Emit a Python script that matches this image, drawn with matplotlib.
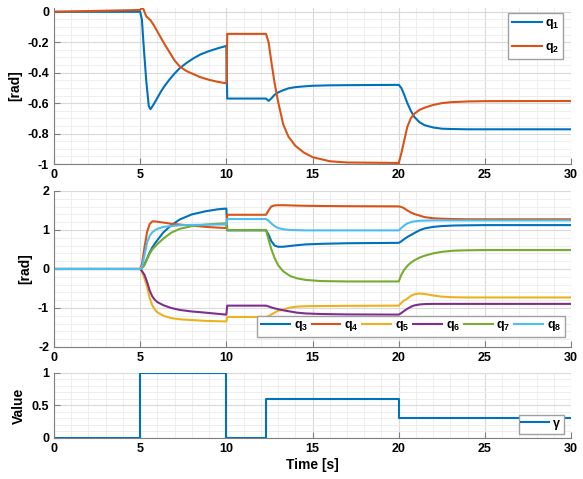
import matplotlib
matplotlib.use('Agg')
import matplotlib.pyplot as plt
from matplotlib.ticker import MultipleLocator

# ---- data ----
t_top = [0, 5.0, 5.1, 5.2, 5.35, 5.5, 5.6, 5.8, 6.0, 6.2, 6.4, 6.7, 7.0, 7.3, 7.7, 8.1,
         8.5, 9.0, 9.5, 10.0, 10.05, 12.3, 12.45, 12.6, 12.8, 13.0, 13.3, 13.6, 14.0,
         14.5, 15, 16, 17, 20.0, 20.15, 20.3, 20.5, 20.7, 20.9, 21.2, 21.5, 22.0, 22.5,
         23, 24, 25, 30]
q1 = [0, 0, -0.05, -0.22, -0.45, -0.62, -0.64, -0.605, -0.565, -0.525, -0.49, -0.445,
      -0.405, -0.37, -0.335, -0.305, -0.28, -0.258, -0.24, -0.224, -0.57, -0.57, -0.585,
      -0.57, -0.545, -0.53, -0.515, -0.503, -0.495, -0.49, -0.486, -0.483, -0.482, -0.48,
      -0.50, -0.54, -0.60, -0.65, -0.69, -0.725, -0.745, -0.76, -0.768, -0.77, -0.772,
      -0.772, -0.772]
q2 = [0, 0.012, 0.028, 0.015, -0.03, -0.045, -0.055, -0.09, -0.13, -0.17, -0.21, -0.265,
      -0.32, -0.36, -0.39, -0.41, -0.43, -0.447, -0.46, -0.47, -0.145, -0.145, -0.20,
      -0.32, -0.47, -0.59, -0.74, -0.82, -0.88, -0.925, -0.955, -0.982, -0.99, -0.993,
      -0.93, -0.855, -0.755, -0.70, -0.67, -0.645, -0.63, -0.612, -0.60, -0.594, -0.589,
      -0.587, -0.586]

t_mid = [0, 5.0, 5.1, 5.25, 5.4, 5.55, 5.7, 5.85, 6.0, 6.35, 6.8, 7.3, 8.0, 8.8, 9.5, 10.0,
         10.05, 12.3, 12.45, 12.6, 12.8, 13.0, 13.3, 13.7, 14.1, 14.6, 15.5, 17, 20.0,
         20.15, 20.3, 20.5, 20.7, 20.9, 21.2, 21.5, 22.0, 22.5, 23.2, 24, 25, 30]
q3 = [0, 0, 0.03, 0.12, 0.27, 0.42, 0.55, 0.65, 0.74, 0.94, 1.12, 1.27, 1.40, 1.48, 1.53,
      1.55, 0.99, 0.99, 0.88, 0.72, 0.60, 0.57, 0.57, 0.59, 0.61, 0.63, 0.645, 0.66, 0.67,
      0.71, 0.76, 0.82, 0.87, 0.92, 0.99, 1.04, 1.08, 1.10, 1.115, 1.12, 1.125, 1.125]
q4 = [0, 0, 0.12, 0.55, 0.95, 1.15, 1.22, 1.22, 1.21, 1.19, 1.16, 1.14, 1.11, 1.08, 1.06,
      1.05, 1.39, 1.39, 1.50, 1.60, 1.63, 1.635, 1.635, 1.63, 1.625, 1.62, 1.615, 1.61,
      1.605, 1.59, 1.56, 1.50, 1.45, 1.41, 1.37, 1.33, 1.30, 1.29, 1.28, 1.275, 1.275, 1.275]
q5 = [0, 0, -0.06, -0.25, -0.45, -0.75, -0.93, -1.04, -1.11, -1.20, -1.26, -1.29, -1.31,
      -1.33, -1.34, -1.345, -1.23, -1.23, -1.21, -1.17, -1.12, -1.07, -1.04, -0.99, -0.965,
      -0.955, -0.95, -0.945, -0.94, -0.87, -0.81, -0.76, -0.69, -0.65, -0.63, -0.64, -0.68,
      -0.71, -0.725, -0.73, -0.73, -0.73]
q6 = [0, 0, -0.05, -0.15, -0.33, -0.55, -0.70, -0.79, -0.85, -0.93, -1.0, -1.05, -1.09,
      -1.12, -1.15, -1.17, -0.94, -0.94, -0.96, -0.985, -1.01, -1.03, -1.06, -1.09, -1.12,
      -1.14, -1.155, -1.165, -1.17, -1.13, -1.08, -1.02, -0.97, -0.935, -0.91, -0.90,
      -0.895, -0.895, -0.895, -0.895, -0.895, -0.895]
q7 = [0, 0, 0.02, 0.10, 0.25, 0.39, 0.50, 0.57, 0.64, 0.78, 0.93, 1.03, 1.10, 1.14, 1.16,
      1.17, 1.0, 1.0, 0.75, 0.52, 0.28, 0.10, -0.06, -0.18, -0.24, -0.28, -0.31, -0.32,
      -0.32, -0.15, -0.03, 0.08, 0.16, 0.22, 0.29, 0.34, 0.40, 0.44, 0.47, 0.48, 0.485, 0.485]
q8 = [0, 0, 0.05, 0.35, 0.68, 0.85, 0.94, 0.99, 1.03, 1.08, 1.10, 1.12, 1.13, 1.135, 1.14,
      1.14, 1.28, 1.28, 1.24, 1.17, 1.10, 1.05, 1.02, 1.0, 0.995, 0.99, 0.99, 0.99, 0.99,
      1.05, 1.11, 1.17, 1.20, 1.22, 1.235, 1.24, 1.245, 1.245, 1.245, 1.245, 1.245, 1.245]

t_gamma = [0, 5, 10, 12.3, 20, 30]
gamma = [0, 1, 0, 0.6, 0.3, 0.3]

colors = ['#0072BD', '#D95319', '#EDB120', '#7E2F8E', '#77AC30', '#4DBEEE']

plt.rcParams['font.family'] = ['Liberation Sans', 'DejaVu Sans']
plt.rcParams['font.weight'] = 'bold'
plt.rcParams['font.size'] = 9
plt.rcParams['axes.unicode_minus'] = False
plt.rcParams['mathtext.fontset'] = 'custom'
plt.rcParams['mathtext.rm'] = 'Liberation Sans'
plt.rcParams['mathtext.bf'] = 'Liberation Sans:bold'
plt.rcParams['mathtext.it'] = 'Liberation Sans'


def style_axes(ax, ymin, ymax, ymajor, yminor):
    ax.set_xlim(0, 30)
    ax.set_ylim(ymin, ymax)
    ax.xaxis.set_major_locator(MultipleLocator(5))
    ax.xaxis.set_minor_locator(MultipleLocator(1))
    ax.yaxis.set_major_locator(MultipleLocator(ymajor))
    ax.yaxis.set_minor_locator(MultipleLocator(yminor))
    ax.grid(which='major', color='#d9d9d9', linewidth=0.8)
    ax.grid(which='minor', color='#ebebeb', linewidth=0.6)
    ax.set_axisbelow(True)
    for s in ['top', 'right']:
        ax.spines[s].set_visible(False)
    for s in ['left', 'bottom']:
        ax.spines[s].set_color('#7f7f7f')
        ax.spines[s].set_linewidth(0.8)
    ax.tick_params(which='major', direction='in', length=4, color='#7f7f7f', labelsize=9)
    ax.tick_params(which='minor', length=0)
    for lbl in ax.get_xticklabels() + ax.get_yticklabels():
        lbl.set_fontweight('bold')


fig = plt.figure(figsize=(5.83, 4.79), dpi=100)
ax1 = fig.add_axes([0.0926, 0.6576, 0.887, 0.3257])
ax2 = fig.add_axes([0.0926, 0.2756, 0.887, 0.3257])
ax3 = fig.add_axes([0.0926, 0.0856, 0.887, 0.1357])

lw = 1.5
leg_kw = dict(fancybox=False, framealpha=1, edgecolor='#a0a0a0', borderaxespad=0,
              prop={'weight': 'bold', 'size': 9})

# top panel
ax1.plot(t_top, q1, color=colors[0], lw=lw, label=r'q$_\mathbf{1}$')
ax1.plot(t_top, q2, color=colors[1], lw=lw, label=r'q$_\mathbf{2}$')
style_axes(ax1, -1, 0.025, 0.2, 0.05)
ax1.set_yticks([-1, -0.8, -0.6, -0.4, -0.2, 0])
ax1.set_yticklabels(['-1', '-0.8', '-0.6', '-0.4', '-0.2', '0'], fontweight='bold')
ax1.set_ylabel('[rad]', fontsize=10, fontweight='bold')
ax1.legend(loc='upper right', bbox_to_anchor=(0.985, 0.965), handlelength=2.4,
           handletextpad=0.25, borderpad=0.3, labelspacing=0.8, **leg_kw)

# middle panel
mid = [q3, q4, q5, q6, q7, q8]
for i, q in enumerate(mid):
    ax2.plot(t_mid, q, color=colors[i], lw=lw, label=r'q$_\mathbf{%d}$' % (i + 3))
style_axes(ax2, -2, 2, 1, 0.2)
ax2.set_ylabel('[rad]', fontsize=10, fontweight='bold')
ax2.legend(loc='lower right', bbox_to_anchor=(0.988, 0.064), ncol=6, handlelength=2.3,
           handletextpad=0.3, columnspacing=0.3, borderpad=0.3, **leg_kw)

# bottom panel
ax3.plot(t_gamma, gamma, color=colors[0], lw=lw, drawstyle='steps-post', label=r'$\gamma$')
style_axes(ax3, 0, 1, 0.5, 0.1)
ax3.set_yticks([0, 0.5, 1])
ax3.set_yticklabels(['0', '0.5', '1'], fontweight='bold')
ax3.set_ylabel('Value', fontsize=10, fontweight='bold')
ax3.set_xlabel('Time [s]', fontsize=10, fontweight='bold', labelpad=2)
ax3.legend(loc='lower right', bbox_to_anchor=(0.986, 0.06), handlelength=2.2,
           handletextpad=0.3, borderpad=0.2, **leg_kw)

fig.savefig('out.png', dpi=100)
